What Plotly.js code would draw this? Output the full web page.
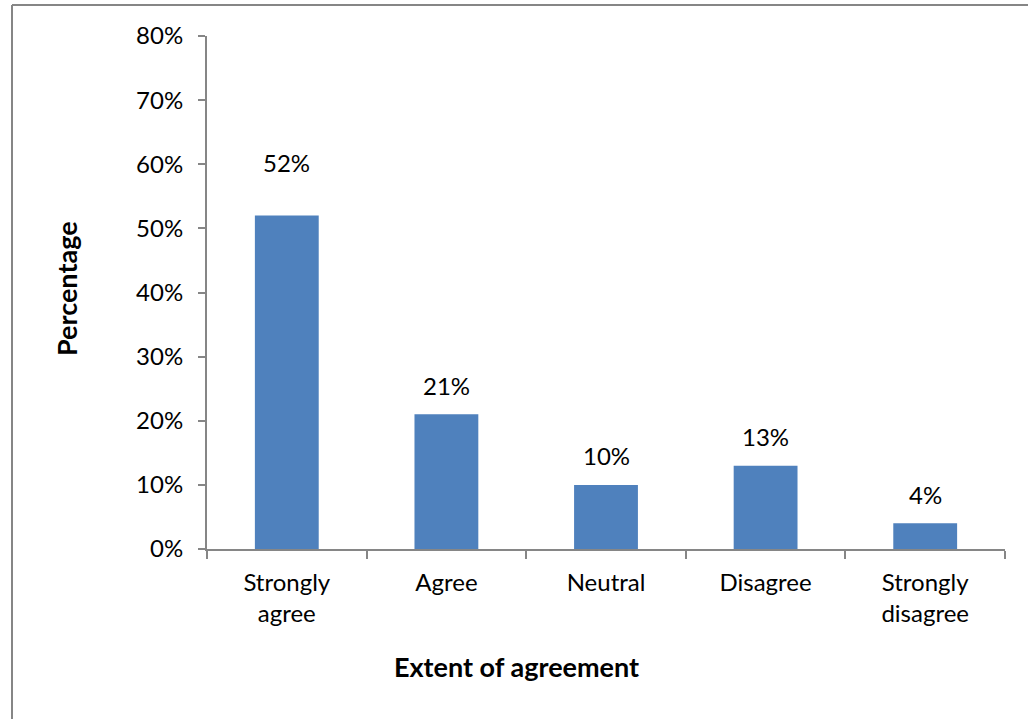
<!DOCTYPE html>
<html>
<head>
<meta charset="utf-8">
<script src="https://cdn.plot.ly/plotly-3.0.1.min.js"></script>
<style>html,body{margin:0;padding:0;background:#fff;}#chart{width:1029px;height:719px;}</style>
</head>
<body>
<div id="chart"></div>
<script>
const categories = ["Strongly agree", "Agree", "Neutral", "Disagree", "Strongly disagree"];
const tickLabels = ["Strongly<br>agree", "Agree", "Neutral", "Disagree", "Strongly<br>disagree"];
const percentages = [52, 21, 10, 13, 4];
const yTickValues = [0, 10, 20, 30, 40, 50, 60, 70, 80];

const FONT = "Lato, 'Open Sans', sans-serif";
const axisColor = "#868686";

const labelShift = percentages.map((v, i) => (i === 0 ? 53 : 29));

const trace = {
  type: "bar",
  x: categories,
  y: percentages,
  width: 0.4,
  marker: { color: "#4F81BD" },
  hoverinfo: "skip"
};

const annotations = categories.map((c, i) => ({
  x: c, y: percentages[i], xref: "x", yref: "y",
  text: percentages[i] + "%", showarrow: false,
  yanchor: "middle", yshift: labelShift[i],
  font: { family: FONT, size: 24, color: "#000" }
}));
annotations.push({
  text: "<b>Extent of agreement</b>", xref: "paper", yref: "paper",
  x: (516 - 207) / 798, y: (549 - 667) / 513, showarrow: false,
  xanchor: "center", yanchor: "middle",
  font: { family: FONT, size: 27, color: "#000" }
});
annotations.push({
  text: "<b>Percentage</b>", xref: "paper", yref: "paper",
  x: (66 - 207) / 798, y: (549 - 289) / 513, showarrow: false,
  xanchor: "center", yanchor: "middle", textangle: -90,
  font: { family: FONT, size: 27, color: "#000" }
});

const layout = {
  width: 1029, height: 719,
  margin: { l: 207, r: 24, t: 36, b: 170 },
  paper_bgcolor: "#fff", plot_bgcolor: "#fff",
  showlegend: false,
  bargap: 0.6,
  xaxis: {
    type: "category",
    tickvals: categories, ticktext: tickLabels,
    tickson: "boundaries",
    ticks: "outside", ticklen: 8, tickcolor: axisColor, tickwidth: 2,
    showline: true, linecolor: axisColor, linewidth: 2,
    showgrid: false, zeroline: false,
    ticklabelstandoff: 11,
    tickfont: { family: FONT, size: 24, color: "#000" },
    fixedrange: true
  },
  yaxis: {
    range: [0, 80],
    tickvals: yTickValues,
    ticktext: yTickValues.map(v => v + "%"),
    ticks: "outside", ticklen: 7, tickcolor: axisColor, tickwidth: 2,
    showline: true, linecolor: axisColor, linewidth: 2,
    showgrid: false, zeroline: false,
    ticklabelstandoff: 10,
    tickfont: { family: FONT, size: 24, color: "#000" },
    fixedrange: true
  },
  annotations: annotations,
  shapes: [
    { type: "line", xref: "paper", yref: "paper",
      x0: (12 - 207) / 798, x1: (12 - 207) / 798, y0: (549 - 5) / 513, y1: (549 - 719) / 513,
      line: { color: axisColor, width: 2 } },
    { type: "line", xref: "paper", yref: "paper",
      x0: (12 - 207) / 798, x1: (1028 - 207) / 798, y0: (549 - 5) / 513, y1: (549 - 5) / 513,
      line: { color: axisColor, width: 2 } }
  ]
};

Plotly.newPlot("chart", [trace], layout, { displayModeBar: false, staticPlot: true });
</script>
</body>
</html>
